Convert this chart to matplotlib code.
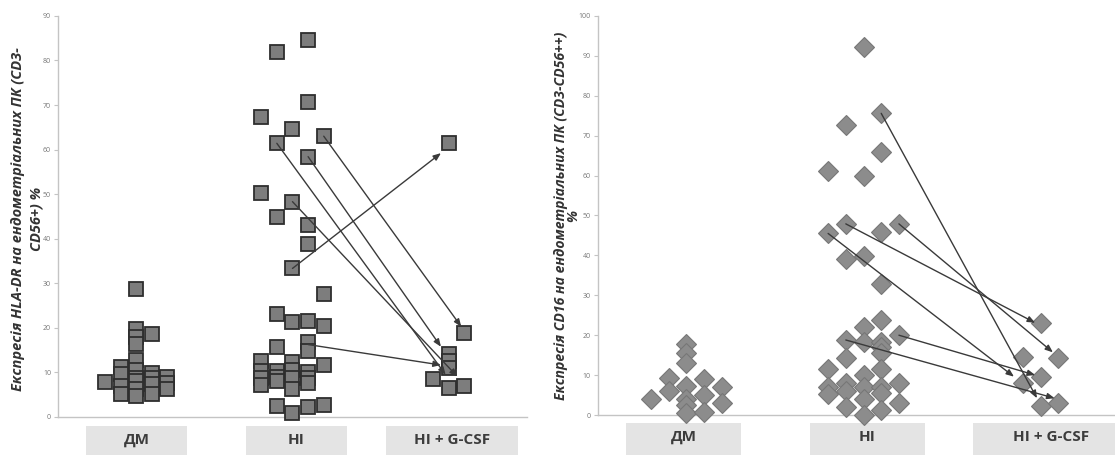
import matplotlib
matplotlib.use("Agg")
import matplotlib.pyplot as plt
from matplotlib.patches import Rectangle
import matplotlib.transforms as mtransforms

plt.rcParams['font.family'] = ['Open Sans', 'DejaVu Sans']

categories = ["ДМ", "НІ", "НІ + G-CSF"]

# left panel: HLA-DR, values per group and the column slot (-2..2) of each square
hla_dm_vals = [7.7, 11.2, 9.6, 7.0, 5.1, 28.7, 19.6, 17.8, 16.3, 12.8, 10.4, 8.8, 8.1, 6.2, 4.6,
               18.6, 9.9, 8.8, 7.3, 5.0, 9.0, 7.6, 6.2]
hla_dm_cols = [-2, -1, -1, -1, -1, 0, 0, 0, 0, 0, 0, 0, 0, 0, 0,
               1, 1, 1, 1, 1, 2, 2, 2]
hla_ni_vals = [67.4, 50.2, 12.6, 10.3, 8.6, 7.2,
               82.0, 61.4, 44.9, 23.1, 15.7, 10.2, 9.0, 8.0, 2.5,
               64.7, 48.3, 33.3, 21.2, 12.2, 10.5, 8.8, 6.2, 0.8,
               84.7, 70.7, 58.4, 43.0, 38.7, 21.6, 16.7, 14.7, 10.0, 8.6, 7.5, 2.2,
               63.0, 27.5, 20.4, 11.5, 2.6]
hla_ni_cols = [-2] * 6 + [-1] * 9 + [0] * 9 + [1] * 12 + [2] * 5
hla_gcsf_vals = [8.5, 61.4, 14.0, 12.5, 11.0, 6.5, 18.7, 6.8]
hla_gcsf_cols = [-1, 0, 0, 0, 0, 0, 1, 1]

# arrows: start (НІ) -> end (НІ + G-CSF), x as category position
hla_arrow_x0 = [1.9, 2.1, 2.2, 2.0, 2.0, 2.1]
hla_arrow_y0 = [61.4, 58.4, 63.0, 48.3, 33.3, 16.2]
hla_arrow_x1 = [2.98, 2.95, 3.08, 3.055, 2.95, 2.95]
hla_arrow_y1 = [9.4, 15.7, 20.2, 9.0, 59.2, 11.6]

# right panel: CD16
cd16_dm_vals = [4.0, 9.2, 6.1, 17.7, 15.6, 13.1, 7.3, 4.0, 2.5, 0.4, 8.9, 5.1, 0.8, 7.1, 3.1]
cd16_dm_cols = [-2, -1, -1, 0, 0, 0, 0, 0, 0, 0, 1, 1, 1, 2, 2]
cd16_ni_vals = [61.2, 45.5, 11.5, 7.1, 5.2,
                72.8, 47.9, 39.0, 18.8, 14.4, 8.1, 6.1, 1.9,
                92.1, 60.0, 39.9, 22.1, 18.2, 10.0, 7.1, 4.0, 0.0,
                75.6, 65.8, 45.9, 32.8, 23.8, 18.4, 17.0, 15.5, 11.5, 7.1, 5.6, 1.3,
                47.9, 20.0, 7.9, 3.1]
cd16_ni_cols = [-2] * 5 + [-1] * 8 + [0] * 9 + [1] * 12 + [2] * 4
cd16_gcsf_vals = [14.6, 8.1, 23.0, 9.4, 2.3, 14.2, 3.1]
cd16_gcsf_cols = [-1, -1, 0, 0, 0, 1, 1]

cd16_arrow_x0 = [2.1, 1.9, 2.2, 1.8, 2.2, 1.9]
cd16_arrow_y0 = [75.6, 47.9, 47.9, 45.5, 20.0, 18.8]
cd16_arrow_x1 = [2.98, 2.97, 3.07, 2.85, 2.97, 3.08]
cd16_arrow_y1 = [4.2, 23.1, 15.7, 9.6, 10.0, 4.2]

hla_label = ["Експресія HLA-DR на ендометріальних ПК (CD3-", "CD56+) %"]
cd16_label = ["Експресія CD16 на ендометріальних ПК (CD3-CD56++)", "%"]

fig = plt.figure(figsize=(11.15, 4.55), dpi=100)
axL = fig.add_axes([0.052, 0.0842, 0.4206, 0.8807])
axR = fig.add_axes([0.5363, 0.0879, 0.4763, 0.877])


def style_axis(ax, ymax):
    ax.set_xlim(0.5, 3.5)
    ax.set_ylim(0, ymax)
    ax.set_yticks(range(0, ymax + 1, 10))
    ax.set_xticks([])
    for s in ["top", "right"]:
        ax.spines[s].set_visible(False)
    for s in ["left", "bottom"]:
        ax.spines[s].set_color("#c4c4c4")
        ax.spines[s].set_linewidth(1.0)
    ax.tick_params(axis="y", labelsize=5, colors="#c4c4c4", labelcolor="#777777",
                   length=3, width=0.8, pad=2)


def draw_group(ax, cat, vals, cols, **kw):
    xs = [cat + 0.1 * c for c in cols]
    ax.plot(xs, vals, linestyle="none", clip_on=False, zorder=3, **kw)


def draw_arrows(ax, x0, y0, x1, y1):
    for a, b, c, d in zip(x0, y0, x1, y1):
        ax.annotate("", xy=(c, d), xytext=(a, b),
                    arrowprops=dict(arrowstyle="-|>,head_length=0.45,head_width=0.18",
                                    color="#3a3a3a", lw=1.0, shrinkA=0, shrinkB=0),
                    zorder=4)


def draw_boxes(ax, spans, ytop, ybot, ytext):
    trans = mtransforms.blended_transform_factory(ax.transData, ax.transAxes)
    for (x0, x1), name in zip(spans, categories):
        ax.add_patch(Rectangle((x0, ybot), x1 - x0, ytop - ybot, transform=trans,
                               facecolor="#e4e4e4", edgecolor="none", clip_on=False))
        ax.text((x0 + x1) / 2, ytext, name, transform=trans, ha="center", va="center",
                fontsize=11, fontweight="bold", color="#3c3c3c")


def draw_ylabel(lines, xs, y, size):
    for line, x in zip(lines, xs):
        fig.text(x, y, line, rotation=90, ha="center", va="center",
                 fontsize=size, fontweight="bold", fontstyle="italic", color="#333333")


sq = dict(marker="s", markersize=9.5, markerfacecolor="#7d7d7d",
          markeredgecolor="#2e2e2e", markeredgewidth=1.3)
dm = dict(marker="D", markersize=10.5, markerfacecolor="#8c8c8c",
          markeredgecolor="#777777", markeredgewidth=0.8)

# left
style_axis(axL, 90)
draw_group(axL, 1, hla_dm_vals, hla_dm_cols, **sq)
draw_group(axL, 2, hla_ni_vals, hla_ni_cols, **sq)
draw_group(axL, 3, hla_gcsf_vals, hla_gcsf_cols, **sq)
draw_arrows(axL, hla_arrow_x0, hla_arrow_y0, hla_arrow_x1, hla_arrow_y1)
draw_boxes(axL, [(0.68, 1.325), (1.70, 2.35), (2.60, 3.44)], -0.024, -0.12, -0.058)

# right
style_axis(axR, 100)
draw_group(axR, 1, cd16_dm_vals, cd16_dm_cols, **dm)
draw_group(axR, 2, cd16_ni_vals, cd16_ni_cols, **dm)
draw_group(axR, 3, cd16_gcsf_vals, cd16_gcsf_cols, **dm)
draw_arrows(axR, cd16_arrow_x0, cd16_arrow_y0, cd16_arrow_x1, cd16_arrow_y1)
draw_boxes(axR, [(0.66, 1.31), (1.70, 2.345), (2.62, 3.5)], -0.02, -0.12, -0.055)

draw_ylabel(hla_label, [0.0165, 0.0330], 0.518, 10.5)
draw_ylabel(cd16_label, [0.5035, 0.5145], 0.525, 10.1)

fig.savefig("out.png", dpi=100)
